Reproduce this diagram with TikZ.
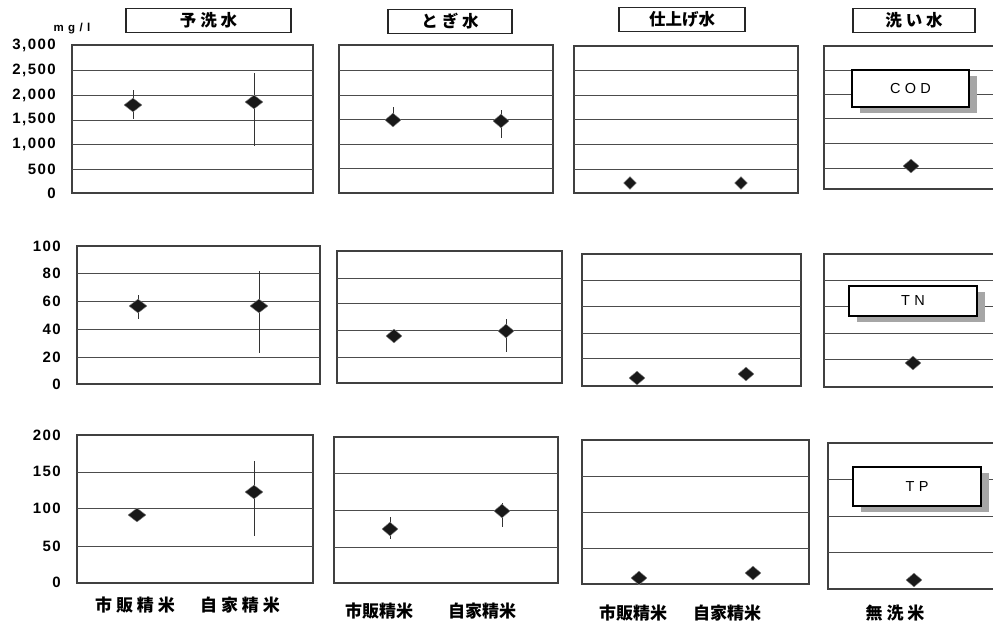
\documentclass[tikz,border=0pt]{standalone}
\usepackage{fontspec}
\setmainfont{Liberation Sans}
\newfontfamily\jp{Noto Sans CJK JP}
\newfontfamily\num{Liberation Sans}[LetterSpace=10]
\newfontfamily\tagfont{Liberation Sans}[LetterSpace=30]
\usetikzlibrary{shapes.geometric,shadows}
\begin{document}
\begin{tikzpicture}[x=1pt,y=-1pt,
  frame/.style={draw=black!75,line width=1.1pt},
  gridline/.style={draw=black!70,line width=0.7pt},
  ebar/.style={draw=black!80,line width=0.6pt},
  pnt/.style={diamond,fill=black!90,draw=black!50,inner sep=0pt,minimum width=16pt,minimum height=14pt},
  title/.style={draw=black!85,line width=1.1pt,minimum width=#1,minimum height=24pt,inner sep=0pt,font=\jp\bfseries\fontsize{16.5}{16.5}\selectfont},
  tick/.style={anchor=east,inner sep=0pt,font=\num\bfseries\fontsize{15}{15}\selectfont},
  cat/.style={inner sep=0pt,font=\jp\bfseries\fontsize{17}{17}\selectfont},
  tag/.style={draw=black,line width=1.2pt,fill=white,inner sep=0pt,font=\tagfont\fontsize{14.5}{14.5}\selectfont,
    drop shadow={shadow xshift=8pt,shadow yshift=-6pt,fill=black!35,opacity=1}}]
\useasboundingbox (0,0) rectangle (993,622);
% titles
\node[title=165] (yosen) at (208.5,20.5) {予 洗 水};
\node[title=124] (togi) at (450,21.5) {と ぎ 水};
\node[title=126] (shiage) at (682,19.5) {仕上げ水};
\node[title=122] (arai) at (914,20.5) {洗 い 水};
\node[inner sep=0pt,font=\num\bfseries\fontsize{11.5}{11.5}\selectfont] (unit) at (72,29) {m g / l};
% COD row
\draw[frame] (72,45) rectangle (313,193);
\draw[frame] (339,45) rectangle (553,193);
\draw[frame] (574,46) rectangle (798,193);
\draw[frame] (824,46) rectangle (1000,189);
\foreach \y in {70,95,120,144,169} \draw[gridline] (72,\y) -- (313,\y);
\foreach \y in {70,95,119,144,168} \draw[gridline] (339,\y) -- (553,\y);
\foreach \y in {70,95,119,144,169} \draw[gridline] (574,\y) -- (798,\y);
\foreach \y in {70,94,118,143,168} \draw[gridline] (824,\y) -- (1000,\y);
\foreach \v/\y in {3{,}000/45,2{,}500/70,2{,}000/95,1{,}500/119,1{,}000/144,500/169,0/193}
  \node[tick] at (56,\y) {\v};
\draw[ebar] (133,90) -- (133,119);
\draw[ebar] (254,73) -- (254,146);
\draw[ebar] (393,107) -- (393,122);
\draw[ebar] (501,110) -- (501,138);
\node[pnt,minimum width=18pt] (cod1) at (133,105) {};
\node[pnt,minimum width=18pt] (cod2) at (254,102) {};
\node[pnt] (cod3) at (393,120) {};
\node[pnt] (cod4) at (501,121) {};
\node[pnt,minimum width=13pt,minimum height=13pt] (cod5) at (630,183) {};
\node[pnt,minimum width=13pt,minimum height=13pt] (cod6) at (741,183) {};
\node[pnt] (cod7) at (911,166) {};
\node[tag,minimum width=117,minimum height=37] (codtag) at (910.5,88.5) {COD};
% TN row
\draw[frame] (77,246) rectangle (320,384);
\draw[frame] (337,251) rectangle (562,383);
\draw[frame] (582,254) rectangle (801,386);
\draw[frame] (824,254) rectangle (1000,387);
\foreach \y in {273,301,329,357} \draw[gridline] (77,\y) -- (320,\y);
\foreach \y in {278,303,330,357} \draw[gridline] (337,\y) -- (562,\y);
\foreach \y in {280,306,333,358} \draw[gridline] (582,\y) -- (801,\y);
\foreach \y in {280,306,333,359} \draw[gridline] (824,\y) -- (1000,\y);
\foreach \v/\y in {100/246,80/273,60/301,40/329,20/357,0/384}
  \node[tick] at (61,\y) {\v};
\draw[ebar] (138,295) -- (138,319);
\draw[ebar] (259,271) -- (259,353);
\draw[ebar] (506,319) -- (506,352);
\node[pnt,minimum width=18pt] (tn1) at (138,306) {};
\node[pnt,minimum width=18pt] (tn2) at (259,306) {};
\node[pnt] (tn3) at (394,336) {};
\node[pnt] (tn4) at (506,331) {};
\node[pnt] (tn5) at (637,378) {};
\node[pnt] (tn6) at (746,374) {};
\node[pnt] (tn7) at (913,363) {};
\node[tag,minimum width=128,minimum height=30] (tntag) at (913,301) {TN};
% TP row
\draw[frame] (77,435) rectangle (313,583);
\draw[frame] (334,437) rectangle (558,583);
\draw[frame] (582,440) rectangle (809,584);
\draw[frame] (828,443) rectangle (1000,589);
\foreach \y in {472,508,546} \draw[gridline] (77,\y) -- (313,\y);
\foreach \y in {473,510,547} \draw[gridline] (334,\y) -- (558,\y);
\foreach \y in {476,512,548} \draw[gridline] (582,\y) -- (809,\y);
\foreach \y in {479,516,552} \draw[gridline] (828,\y) -- (1000,\y);
\foreach \v/\y in {200/435,150/471,100/508,50/546,0/582}
  \node[tick] at (61,\y) {\v};
\draw[ebar] (254,461) -- (254,536);
\draw[ebar] (390,517) -- (390,539);
\draw[ebar] (502,503) -- (502,527);
\node[pnt,minimum width=18pt] (tp1) at (137,515) {};
\node[pnt,minimum width=18pt] (tp2) at (254,492) {};
\node[pnt] (tp3) at (390,529) {};
\node[pnt] (tp4) at (502,511) {};
\node[pnt] (tp5) at (639,578) {};
\node[pnt] (tp6) at (753,573) {};
\node[pnt] (tp7) at (914,580) {};
\node[tag,minimum width=128,minimum height=39] (tptag) at (917,486.5) {TP};
% categories
\node[cat] (shihan1) at (135,605) {市 販 精 米};
\node[cat] (jika1) at (240,605) {自 家 精 米};
\node[cat] (shihan2) at (379,611) {市販精米};
\node[cat] (jika2) at (482,611) {自家精米};
\node[cat] (shihan3) at (633,613) {市販精米};
\node[cat] (jika3) at (727,613) {自家精米};
\node[cat] (musen) at (895,613) {無 洗 米};
\end{tikzpicture}
\end{document}
